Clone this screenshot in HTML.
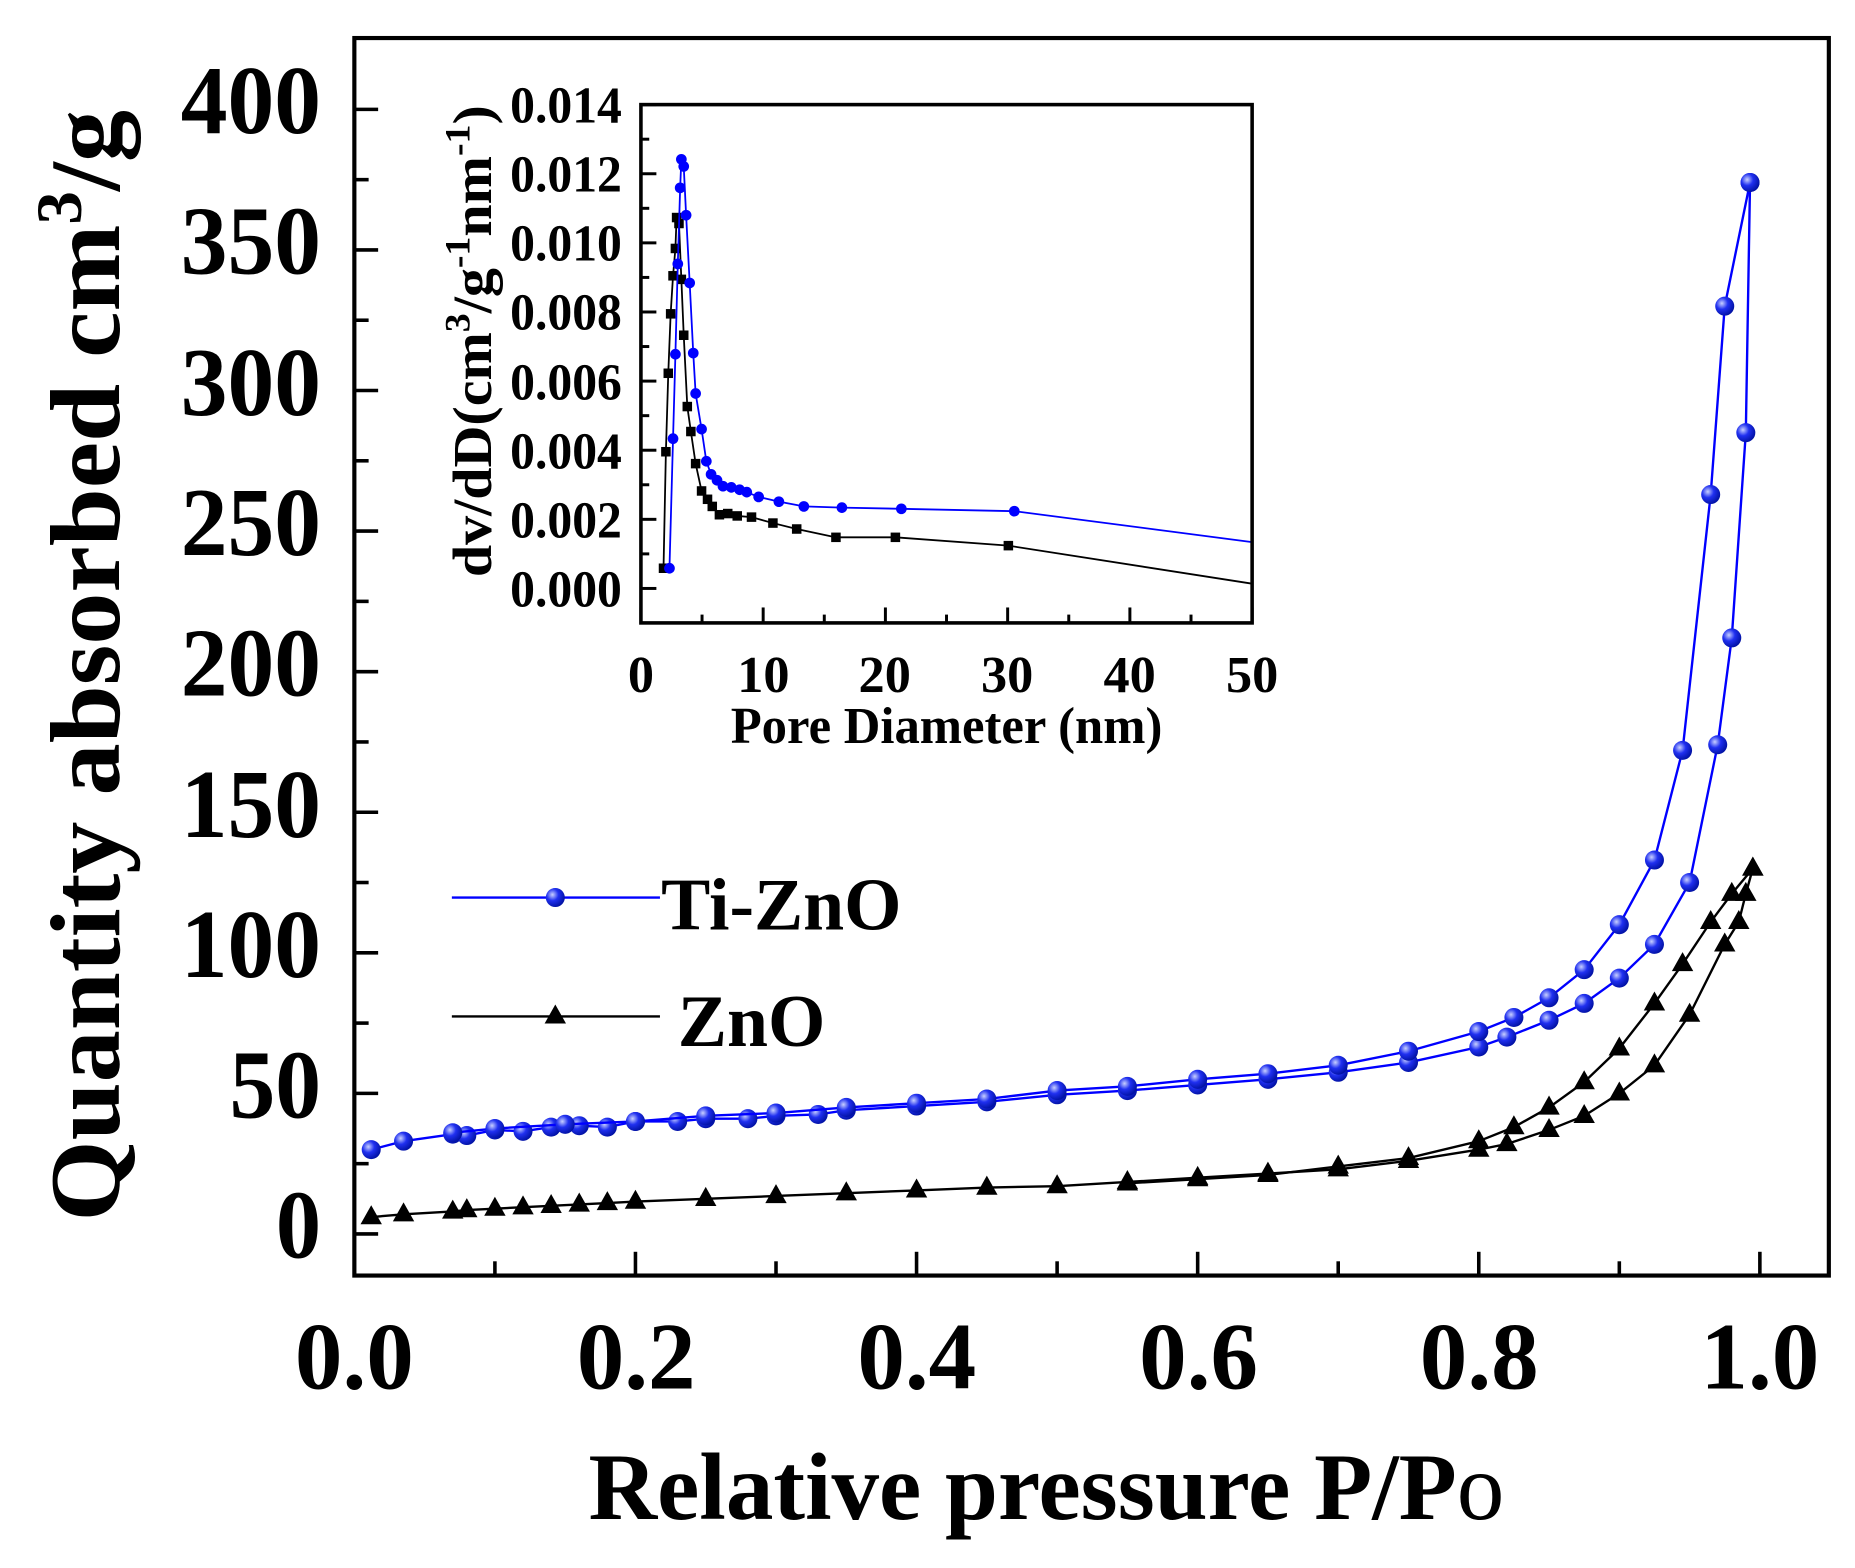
<!DOCTYPE html>
<html><head><meta charset="utf-8"><style>
html,body{margin:0;padding:0;background:#fff}
svg{display:block}
text{font-family:"Liberation Serif",serif;font-weight:bold;fill:#000}
</style></head><body>
<svg id="s" width="1855" height="1568" viewBox="0 0 1560 1319" preserveAspectRatio="none" xmlns="http://www.w3.org/2000/svg">
<rect width="1560" height="1319" fill="#fff"/>
<defs>
<radialGradient id="bg" cx="35%" cy="35%" r="70%"><stop offset="0" stop-color="#c8d0ff"/><stop offset="0.45" stop-color="#2030f0"/><stop offset="1" stop-color="#0010a0"/></radialGradient>
</defs>
<g id="main"></g>
<rect x="298" y="32" width="1240" height="1041" fill="none" stroke="#000" stroke-width="3.5"/>
<g font-size="82" text-anchor="end">
<text x="270" y="1058" textLength="38" lengthAdjust="spacingAndGlyphs">0</text>
<text x="270" y="940" textLength="77" lengthAdjust="spacingAndGlyphs">50</text>
<text x="270" y="822" textLength="118" lengthAdjust="spacingAndGlyphs">100</text>
<text x="270" y="704" textLength="118" lengthAdjust="spacingAndGlyphs">150</text>
<text x="270" y="585" textLength="118" lengthAdjust="spacingAndGlyphs">200</text>
<text x="270" y="467" textLength="118" lengthAdjust="spacingAndGlyphs">250</text>
<text x="270" y="349" textLength="118" lengthAdjust="spacingAndGlyphs">300</text>
<text x="270" y="230" textLength="118" lengthAdjust="spacingAndGlyphs">350</text>
<text x="270" y="112" textLength="118" lengthAdjust="spacingAndGlyphs">400</text>
</g>
<g font-size="80" text-anchor="middle">
<text x="298" y="1168">0.0</text><text x="535" y="1168">0.2</text><text x="771" y="1168">0.4</text><text x="1008" y="1168">0.6</text><text x="1244" y="1168">0.8</text><text x="1480" y="1168">1.0</text>
</g>
<text x="880" y="1278" font-size="80" text-anchor="middle">Relative pressure P/P<tspan font-weight="normal">o</tspan></text>
<text transform="translate(100,560) rotate(-90)" font-size="84" text-anchor="middle" textLength="935" lengthAdjust="spacingAndGlyphs">Quantity absorbed cm<tspan dy="-32" font-size="54">3</tspan><tspan dy="32">/g</tspan></text>
<line x1="380" y1="755" x2="555" y2="755" stroke="#0000ff" stroke-width="2"/>
<circle cx="467" cy="755" r="8" fill="url(#bg)"/>
<text x="556" y="782" font-size="62">Ti-ZnO</text>
<line x1="380" y1="855" x2="555" y2="855" stroke="#000" stroke-width="2"/>
<polygon points="467,845 476,861 458,861" fill="#000"/>
<text x="570" y="880" font-size="62">ZnO</text>
<g id="ins"></g>
<rect x="539" y="88" width="514" height="436" fill="none" stroke="#000" stroke-width="3"/>
<g font-size="44" text-anchor="end">
<text x="523" y="510" textLength="94" lengthAdjust="spacingAndGlyphs">0.000</text>
<text x="523" y="452" textLength="94" lengthAdjust="spacingAndGlyphs">0.002</text>
<text x="523" y="394" textLength="94" lengthAdjust="spacingAndGlyphs">0.004</text>
<text x="523" y="336" textLength="94" lengthAdjust="spacingAndGlyphs">0.006</text>
<text x="523" y="277" textLength="94" lengthAdjust="spacingAndGlyphs">0.008</text>
<text x="523" y="219" textLength="94" lengthAdjust="spacingAndGlyphs">0.010</text>
<text x="523" y="161" textLength="94" lengthAdjust="spacingAndGlyphs">0.012</text>
<text x="523" y="103" textLength="94" lengthAdjust="spacingAndGlyphs">0.014</text>
</g>
<g font-size="44" text-anchor="middle">
<text x="539" y="582">0</text><text x="642" y="582">10</text><text x="744" y="582">20</text><text x="847" y="582">30</text><text x="950" y="582">40</text><text x="1053" y="582">50</text>
</g>
<text x="796" y="625" font-size="44" text-anchor="middle" textLength="363" lengthAdjust="spacingAndGlyphs">Pore Diameter (nm)</text>
<text transform="translate(413,287) rotate(-90)" font-size="46" text-anchor="middle" textLength="397" lengthAdjust="spacingAndGlyphs">dv/dD(cm<tspan dy="-18" font-size="30">3</tspan><tspan dy="18">/g</tspan><tspan dy="-18" font-size="30">-1</tspan><tspan dy="18">nm</tspan><tspan dy="-18" font-size="30">-1</tspan><tspan dy="18">)</tspan></text>
</svg>
<script>
var NS="http://www.w3.org/2000/svg";
function el(p,t,a){var e=document.createElementNS(NS,t);for(var k in a)e.setAttribute(k,a[k]);p.appendChild(e);return e;}
var m=document.getElementById('main'),ins=document.getElementById('ins');
for(var v=0;v<=400;v+=25){var y=1038-2.365*v;el(m,'line',{x1:298,y1:y,x2:v%50?310:318,y2:y,stroke:'#000','stroke-width':3});}
for(var p=0;p<=1.0001;p+=0.1){var x=298+1182*p;var maj=Math.round(p*10)%2==0;el(m,'line',{x1:x,y1:1073,x2:x,y2:maj?1053:1061,stroke:'#000','stroke-width':3});}
function X(p){return 298+1182*p} function Y(v){return 1038-2.365*v}
function series(pts,col,mk){var d=pts.map(function(a){return X(a[0])+','+Y(a[1])}).join(' ');
el(m,'polyline',{points:d,fill:'none',stroke:col,'stroke-width':2});
pts.forEach(function(a){var x=X(a[0]),y=Y(a[1]);if(mk=='c')el(m,'circle',{cx:x,cy:y,r:8,fill:'url(#bg)'});else el(m,'polygon',{points:x+','+(y-10)+' '+(x+9)+','+(y+6)+' '+(x-9)+','+(y+6),fill:'#000'});});}
var bA=[[0.012,30],[0.035,33],[0.07,35.5],[0.08,35],[0.1,37],[0.12,36.5],[0.14,38],[0.16,38.5],[0.18,38],[0.2,40],[0.23,40],[0.25,41],[0.28,41],[0.3,42],[0.33,42.5],[0.35,44],[0.4,45.5],[0.45,47],[0.5,49.5],[0.55,51],[0.6,53],[0.65,55],[0.7,57.5],[0.75,61],[0.8,66.5],[0.82,70],[0.85,76],[0.875,82],[0.9,91],[0.925,103],[0.95,125],[0.97,174],[0.98,212],[0.99,285],[0.993,374]];
var bD=[[0.993,374],[0.975,330],[0.965,263],[0.945,172],[0.925,133],[0.9,110],[0.875,94],[0.85,84],[0.825,77],[0.8,72],[0.75,65],[0.7,60],[0.65,57],[0.6,55],[0.55,52.5],[0.5,51],[0.45,48],[0.4,46.5],[0.35,45],[0.3,43],[0.25,42],[0.2,40],[0.15,39],[0.1,37.5],[0.07,36]];
var kA=[[0.012,6],[0.035,7],[0.07,8],[0.08,8.5],[0.1,9],[0.12,9.5],[0.14,10],[0.16,10.5],[0.18,11],[0.2,11.5],[0.25,12.5],[0.3,13.5],[0.35,14.5],[0.4,15.5],[0.45,16.5],[0.5,17],[0.55,18.5],[0.6,20],[0.65,21.5],[0.7,23],[0.75,26],[0.8,30],[0.82,32],[0.85,37],[0.875,42],[0.9,50],[0.925,60],[0.95,78],[0.975,103],[0.985,111],[0.99,121],[0.995,130]];
var kD=[[0.995,130],[0.98,121],[0.965,111],[0.945,96],[0.925,82],[0.9,66],[0.875,54],[0.85,45],[0.825,38],[0.8,33],[0.75,27],[0.7,24],[0.65,21],[0.6,19.5],[0.55,18]];
series(kA,'#000','t');series(kD,'#000','t');series(bA,'#0000ff','c');series(bD,'#0000ff','c');
for(var i=0;i<=14;i++){var y=495-29.07*i;el(ins,'line',{x1:539,y1:y,x2:i%2?546:552,y2:y,stroke:'#000','stroke-width':2.5});}
for(var i=0;i<=10;i++){var x=539+51.4*i;el(ins,'line',{x1:x,y1:524,x2:x,y2:i%2?517:511,stroke:'#000','stroke-width':2.5});}
var ib=[[563,478],[566,369],[568,298],[570,222],[572,158],[573,134],[575,140],[577,181],[580,238],[583,297],[585,331],[590,361],[594,388],[598,399],[603,404],[608,409],[615,410],[622,412],[628,414],[638,418],[655,422],[676,426],[708,427],[758,428],[853,430],[1053,456]];
var ik=[[558,478],[560,380],[562,314],[564,264],[566,232],[568,209],[569,183],[571,188],[573,235],[575,282],[578,342],[581,363],[585,390],[590,413],[595,420],[599,426],[605,433],[612,432],[620,434],[632,435],[650,440],[670,445],[703,452],[753,452],[848,459],[1053,491]];
el(ins,'polyline',{points:ik.join(' '),fill:'none',stroke:'#000','stroke-width':1.5});
ik.slice(0,-1).forEach(function(a){el(ins,'rect',{x:a[0]-4,y:a[1]-4,width:8,height:8,fill:'#000'});});
el(ins,'polyline',{points:ib.join(' '),fill:'none',stroke:'#0000ff','stroke-width':1.5});
ib.slice(0,-1).forEach(function(a){el(ins,'circle',{cx:a[0],cy:a[1],r:4.5,fill:'#0000ff'});});
</script>
</body></html>
